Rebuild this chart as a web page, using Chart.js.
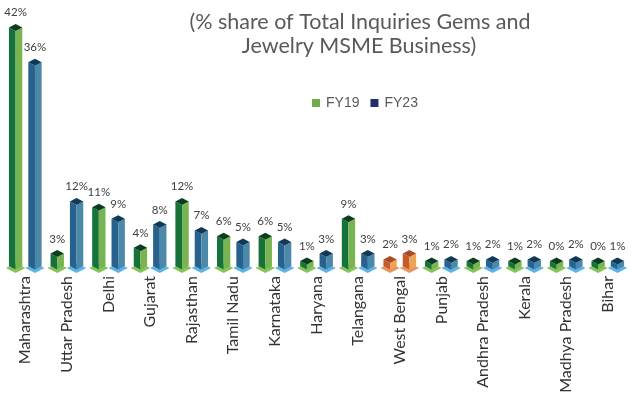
<!DOCTYPE html>
<html>
<head>
<meta charset="utf-8">
<script src="https://cdn.jsdelivr.net/npm/chart.js@4.4.1/dist/chart.umd.min.js"></script>
<style>
  html, body { margin: 0; padding: 0; background: #ffffff; }
  #wrap { width: 632px; height: 394px; position: relative; }
</style>
</head>
<body>
<div id="wrap"><canvas id="chart" width="632" height="394"></canvas></div>
<script>
// States ranked by share of inquiries
const states = ['Maharashtra', 'Uttar Pradesh', 'Delhi', 'Gujarat', 'Rajasthan', 'Tamil Nadu',
  'Karnataka', 'Haryana', 'Telangana', 'West Bengal', 'Punjab', 'Andhra Pradesh', 'Kerala',
  'Madhya Pradesh', 'Bihar'];
const fy19 = [42, 3, 11, 4, 12, 6, 6, 1, 9, 2, 1, 1, 1, 0, 0];
const fy23 = [36, 12, 9, 8, 7, 5, 5, 3, 3, 3, 2, 2, 2, 2, 1];
const seriesNames = ['FY19', 'FY23'];
const highlightState = 'West Bengal';
const titleLines = ['(% share of Total Inquiries Gems and', 'Jewelry MSME Business)'];

// Box shading: left face, right face, top cap, floor plate
const shades = {
  green:  { left: '#15733a', right: '#78b452', top: '#0b3d20', floor: '#86c45a' },
  blue:   { left: '#26628d', right: '#4b88aa', top: '#0e3a56', floor: '#5eb3e4' },
  orange: { left: '#c65a2b', right: '#eea455', top: '#a84b27', floor: '#e69760' }
};
const legendColors = ['#70ad47', '#1f2f6b'];

const boxPlugin = {
  id: 'boxes',
  afterDatasetsDraw(chart) {
    const ctx = chart.ctx;
    const yScale = chart.scales.y;
    const zero = yScale.getPixelForValue(0);
    chart.data.datasets.forEach((ds, di) => {
      const meta = chart.getDatasetMeta(di);
      meta.data.forEach((el, i) => {
        const shade = states[i] === highlightState ? shades.orange : (di === 0 ? shades.green : shades.blue);
        const x = el.x;
        const a = el.width / 2;
        const s = 3.5;
        const T = Math.min(el.y, zero - 10);
        const B = zero - 5;
        ctx.save();
        // floor plate
        ctx.fillStyle = shade.floor;
        ctx.beginPath();
        ctx.moveTo(x - a - 3, zero - 3);
        ctx.lineTo(x, zero - 3 - s - 1.5);
        ctx.lineTo(x + a + 3, zero - 3);
        ctx.lineTo(x, zero - 3 + s + 1.5);
        ctx.closePath();
        ctx.fill();
        // left face
        ctx.fillStyle = shade.left;
        ctx.beginPath();
        ctx.moveTo(x - a, T);
        ctx.lineTo(x, T + s);
        ctx.lineTo(x, B + s);
        ctx.lineTo(x - a, B);
        ctx.closePath();
        ctx.fill();
        // right face
        ctx.fillStyle = shade.right;
        ctx.beginPath();
        ctx.moveTo(x, T + s);
        ctx.lineTo(x + a, T);
        ctx.lineTo(x + a, B);
        ctx.lineTo(x, B + s);
        ctx.closePath();
        ctx.fill();
        // top cap
        ctx.fillStyle = shade.top;
        ctx.beginPath();
        ctx.moveTo(x - a, T);
        ctx.lineTo(x, T - s);
        ctx.lineTo(x + a, T);
        ctx.lineTo(x, T + s);
        ctx.closePath();
        ctx.fill();
        // value label
        ctx.fillStyle = '#404040';
        ctx.font = '11.5px Lato';
        ctx.textAlign = 'center';
        ctx.textBaseline = 'alphabetic';
        ctx.fillText(ds.data[i] + '%', x, T - 11);
        ctx.restore();
      });
    });
  },
  afterDraw(chart) {
    const ctx = chart.ctx;
    ctx.save();
    // title
    ctx.fillStyle = '#595959';
    ctx.font = '21.5px Lato';
    ctx.textAlign = 'center';
    ctx.textBaseline = 'alphabetic';
    ctx.fillText(titleLines[0], 360, 29);
    ctx.fillText(titleLines[1], 359, 53);
    // legend
    ctx.font = '14px "Liberation Sans"';
    ctx.textAlign = 'left';
    ctx.textBaseline = 'middle';
    let lx = 312;
    seriesNames.forEach((name, k) => {
      ctx.fillStyle = legendColors[k];
      ctx.fillRect(lx, 99, 8, 8);
      ctx.fillStyle = '#595959';
      ctx.fillText(name, lx + 14, 103);
      lx += 14 + ctx.measureText(name).width + 11;
    });
    ctx.restore();
  }
};

new Chart(document.getElementById('chart'), {
  type: 'bar',
  data: {
    labels: states,
    datasets: [
      { label: seriesNames[0], data: fy19, backgroundColor: 'rgba(0,0,0,0)' },
      { label: seriesNames[1], data: fy23, backgroundColor: 'rgba(0,0,0,0)' }
    ]
  },
  options: {
    responsive: false,
    animation: false,
    events: [],
    layout: { padding: { top: 10, left: 4.5, right: -3, bottom: 0 } },
    datasets: { bar: { categoryPercentage: 0.93, barPercentage: 0.69 } },
    plugins: { legend: { display: false }, title: { display: false }, tooltip: { enabled: false } },
    scales: {
      x: {
        grid: { display: false, drawTicks: false },
        border: { display: false },
        ticks: {
          autoSkip: false, maxRotation: 90, minRotation: 90, padding: 5,
          color: '#333333', font: { family: 'Lato', size: 16 }
        },
        afterFit(scale) { scale.height = 123; }
      },
      y: { display: false, min: 0, max: 45 }
    }
  },
  plugins: [boxPlugin]
});
</script>
</body>
</html>
